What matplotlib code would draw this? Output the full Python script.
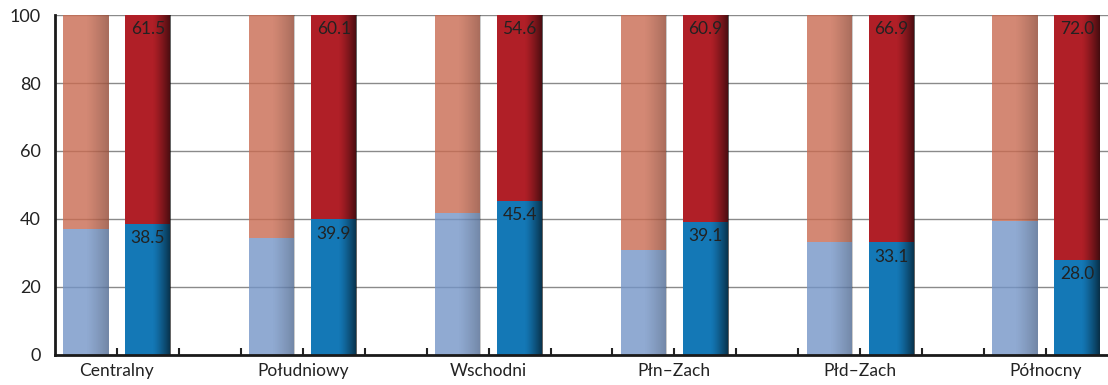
import numpy as np
import matplotlib
matplotlib.use("Agg")
import matplotlib.pyplot as plt

plt.rcParams['font.family'] = ['Lato', 'DejaVu Sans']

regions = ["Centralny", "Południowy", "Wschodni", "Płn–Zach", "Płd–Zach", "Północny"]
# first (pale) bar of each pair
pale_low = [37.1, 34.3, 41.9, 30.9, 33.2, 39.4]
pale_high = [100 - v for v in pale_low]
# second (labelled) bar of each pair
dark_low = [38.5, 39.9, 45.4, 39.1, 33.1, 28.0]
dark_high = [61.5, 60.1, 54.6, 60.9, 66.9, 72.0]

c_pale_low = "#7495c7"
c_pale_high = "#c96b51"
c_dark_low = "#1478b6"
c_dark_high = "#b01f27"

fig = plt.figure(figsize=(11.08, 3.85), dpi=100)
ax = fig.add_axes([0.0496, 0.078, 0.9504, 0.883])

n = len(regions)
x_pale = np.arange(n) * 3 + 0.5
x_dark = np.arange(n) * 3 + 1.5
w = 0.73


def shade(bar, strength, start, power, alpha=1.0):
    """Darken the right side of a bar with a clipped horizontal gradient."""
    x0, y0 = bar.get_x(), bar.get_y()
    bw, bh = bar.get_width(), bar.get_height()
    t = np.linspace(0, 1, 200)
    a = np.clip((t - start) / (1 - start), 0, 1) ** power * strength * alpha
    img = np.zeros((1, 200, 4))
    img[..., 3] = a
    im = ax.imshow(img, extent=[x0, x0 + bw, y0, y0 + bh], aspect='auto',
                   interpolation='bilinear', zorder=bar.get_zorder() + 0.1)
    im.set_clip_path(bar)


bars_pl = ax.bar(x_pale, pale_low, w, color=c_pale_low, alpha=0.8, zorder=2, linewidth=0)
bars_ph = ax.bar(x_pale, pale_high, w, bottom=pale_low, color=c_pale_high, alpha=0.8, zorder=2, linewidth=0)
bars_dl = ax.bar(x_dark, dark_low, w, color=c_dark_low, zorder=2, linewidth=0)
bars_dh = ax.bar(x_dark, dark_high, w, bottom=dark_low, color=c_dark_high, zorder=2, linewidth=0)

for b in list(bars_pl) + list(bars_ph):
    shade(b, 0.25, 0.5, 1.2, 0.85)
for b in list(bars_dl) + list(bars_dh):
    shade(b, 0.62, 0.6, 1.3)

for xi, lo, hi in zip(x_dark, dark_low, dark_high):
    ax.annotate(f"{hi:.1f}", (xi, lo + hi), xytext=(0, -4.5), textcoords='offset points',
                ha='center', va='top', fontsize=12.5, color='#222222', zorder=5)
    ax.annotate(f"{lo:.1f}", (xi, lo), xytext=(0, -4.5), textcoords='offset points',
                ha='center', va='top', fontsize=12.5, color='#222222', zorder=5)

ax.set_xlim(0, 3 * n - 1)
ax.set_ylim(0, 100)
ax.set_yticks([0, 20, 40, 60, 80, 100])
ax.yaxis.grid(True, color='#8a8a8a', linewidth=1.0)
ax.set_axisbelow(True)

ticks = np.arange(1, 3 * n - 1)
labels = ["" for _ in ticks]
for i, name in enumerate(regions):
    labels[3 * i] = name
ax.set_xticks(ticks)
ax.set_xticklabels(labels, fontsize=12.5, color='#222222')
ax.tick_params(axis='x', direction='in', length=5, width=1.5, color='#222222', pad=6)
ax.tick_params(axis='y', length=0, labelsize=13, labelcolor='#222222', pad=10)

for side in ('top', 'right'):
    ax.spines[side].set_visible(False)
for side in ('left', 'bottom'):
    ax.spines[side].set_color('#1a1a1a')
    ax.spines[side].set_linewidth(2)

fig.savefig("out.png", dpi=100)
